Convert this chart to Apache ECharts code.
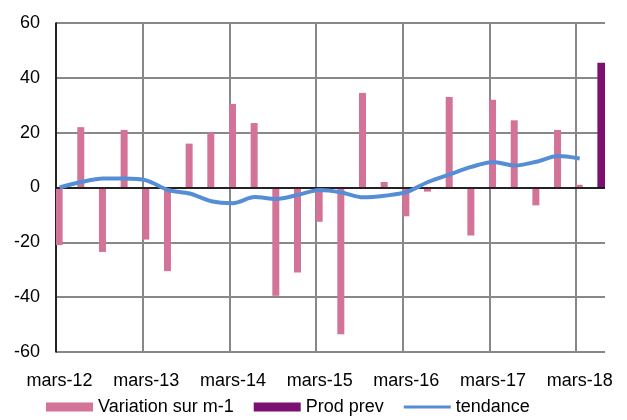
<!DOCTYPE html>
<html>
<head>
<meta charset="utf-8">
<script src="https://cdn.jsdelivr.net/npm/echarts@6/dist/echarts.min.js"></script>
<style>
  html, body { margin: 0; padding: 0; background: #fff; }
  #chart { width: 627px; height: 420px; }
</style>
</head>
<body>
<div id="chart"></div>
<script>
  // trimestres (mars-12 .. mars-18)
  const quarters = ['mars-12', 'juin-12', 'sept-12', 'déc-12', 'mars-13', 'juin-13', 'sept-13', 'déc-13',
    'mars-14', 'juin-14', 'sept-14', 'déc-14', 'mars-15', 'juin-15', 'sept-15', 'déc-15',
    'mars-16', 'juin-16', 'sept-16', 'déc-16', 'mars-17', 'juin-17', 'sept-17', 'déc-17', 'mars-18']
  const variation = [-21, 22, -23.5, 21, -19, -30.5, 16, 20, 30.5, 23.5, -39.5, -31, -12.5, -53.5, 34.5, 2,
    -10.5, -1.5, 33, -17.5, 32, 24.5, -6.5, 21, 1]
  const tendance = [0, 2, 3.3, 3.3, 2.6, -0.9, -2.2, -5, -5.7, -3.5, -4.2, -2.7, -0.9, -1.8, -3.6, -3,
    -1.7, 2, 4.8, 7.5, 9.3, 8, 9.4, 11.5, 10.6]
  const prodPrevQuarter = 'juin-18'
  const prodPrev = [45.5]
  const yTicks = { min: -60, max: 60, interval: 20 }

  // axe mensuel (comme l'axe date d'Excel) : mars-12 .. juin-18
  const monthNames = ['janv', 'févr', 'mars', 'avr', 'mai', 'juin', 'juil', 'août', 'sept', 'oct', 'nov', 'déc']
  const categories = []
  for (let k = 0; k < quarters.length * 3 + 1; k++) {
    const m = 2 + k
    categories.push(monthNames[m % 12] + '-' + (12 + Math.floor(m / 12)))
  }
  const monthly = (values) => {
    const out = categories.map(() => null)
    values.forEach((v, i) => { out[categories.indexOf(quarters[i])] = v })
    return out
  }
  const prodData = categories.map((c) => (c === prodPrevQuarter ? prodPrev[0] : null))

  const chart = echarts.init(document.getElementById('chart'))
  chart.setOption({
    animation: false,
    textStyle: { fontFamily: '"Liberation Sans", Arial, sans-serif' },
    grid: { left: 56, right: 22, top: 23, bottom: 68 },
    legend: {
      left: 41,
      top: 393,
      itemWidth: 47,
      itemHeight: 9,
      itemGap: 20,
      textStyle: { fontSize: 18, color: '#000' },
      data: [
        { name: 'Variation sur m-1', icon: 'rect' },
        { name: 'Prod prev', icon: 'rect' },
        // trait simple, sans le rond par défaut
        { name: 'tendance', icon: 'path://M0,0H50V3.2H0Z' },
      ],
    },
    xAxis: {
      type: 'category',
      data: categories,
      axisLine: { show: false },
      axisTick: { show: false },
      axisLabel: { interval: 11, margin: 20, fontSize: 18, color: '#000' },
      splitLine: {
        show: true,
        interval: 11,
        showMaxLine: false,
        lineStyle: { color: '#888', width: 2 },
      },
    },
    yAxis: {
      type: 'value',
      min: yTicks.min,
      max: yTicks.max,
      interval: yTicks.interval,
      axisLine: { show: true, lineStyle: { color: '#000', width: 1.5 } },
      axisTick: { show: false },
      axisLabel: { margin: 16, fontSize: 18, color: '#000' },
      splitLine: { lineStyle: { color: '#888', width: 2 } },
    },
    series: [
      {
        name: 'Variation sur m-1',
        type: 'bar',
        barWidth: 7,
        barGap: '-100%',
        itemStyle: { color: '#d37397' },
        data: monthly(variation),
        markLine: {
          silent: true,
          symbol: 'none',
          label: { show: false },
          lineStyle: { color: '#000', width: 1.5, type: 'solid' },
          data: [{ yAxis: 0 }],
        },
      },
      {
        name: 'Prod prev',
        type: 'bar',
        barWidth: 8,
        barGap: '-100%',
        itemStyle: { color: '#7b1070' },
        data: prodData,
      },
      {
        name: 'tendance',
        type: 'line',
        symbol: 'none',
        smooth: 0.3,
        connectNulls: true,
        z: 5,
        lineStyle: { color: '#558ed5', width: 4 },
        itemStyle: { color: '#558ed5' },
        data: monthly(tendance),
      },
    ],
  })
</script>
</body>
</html>
